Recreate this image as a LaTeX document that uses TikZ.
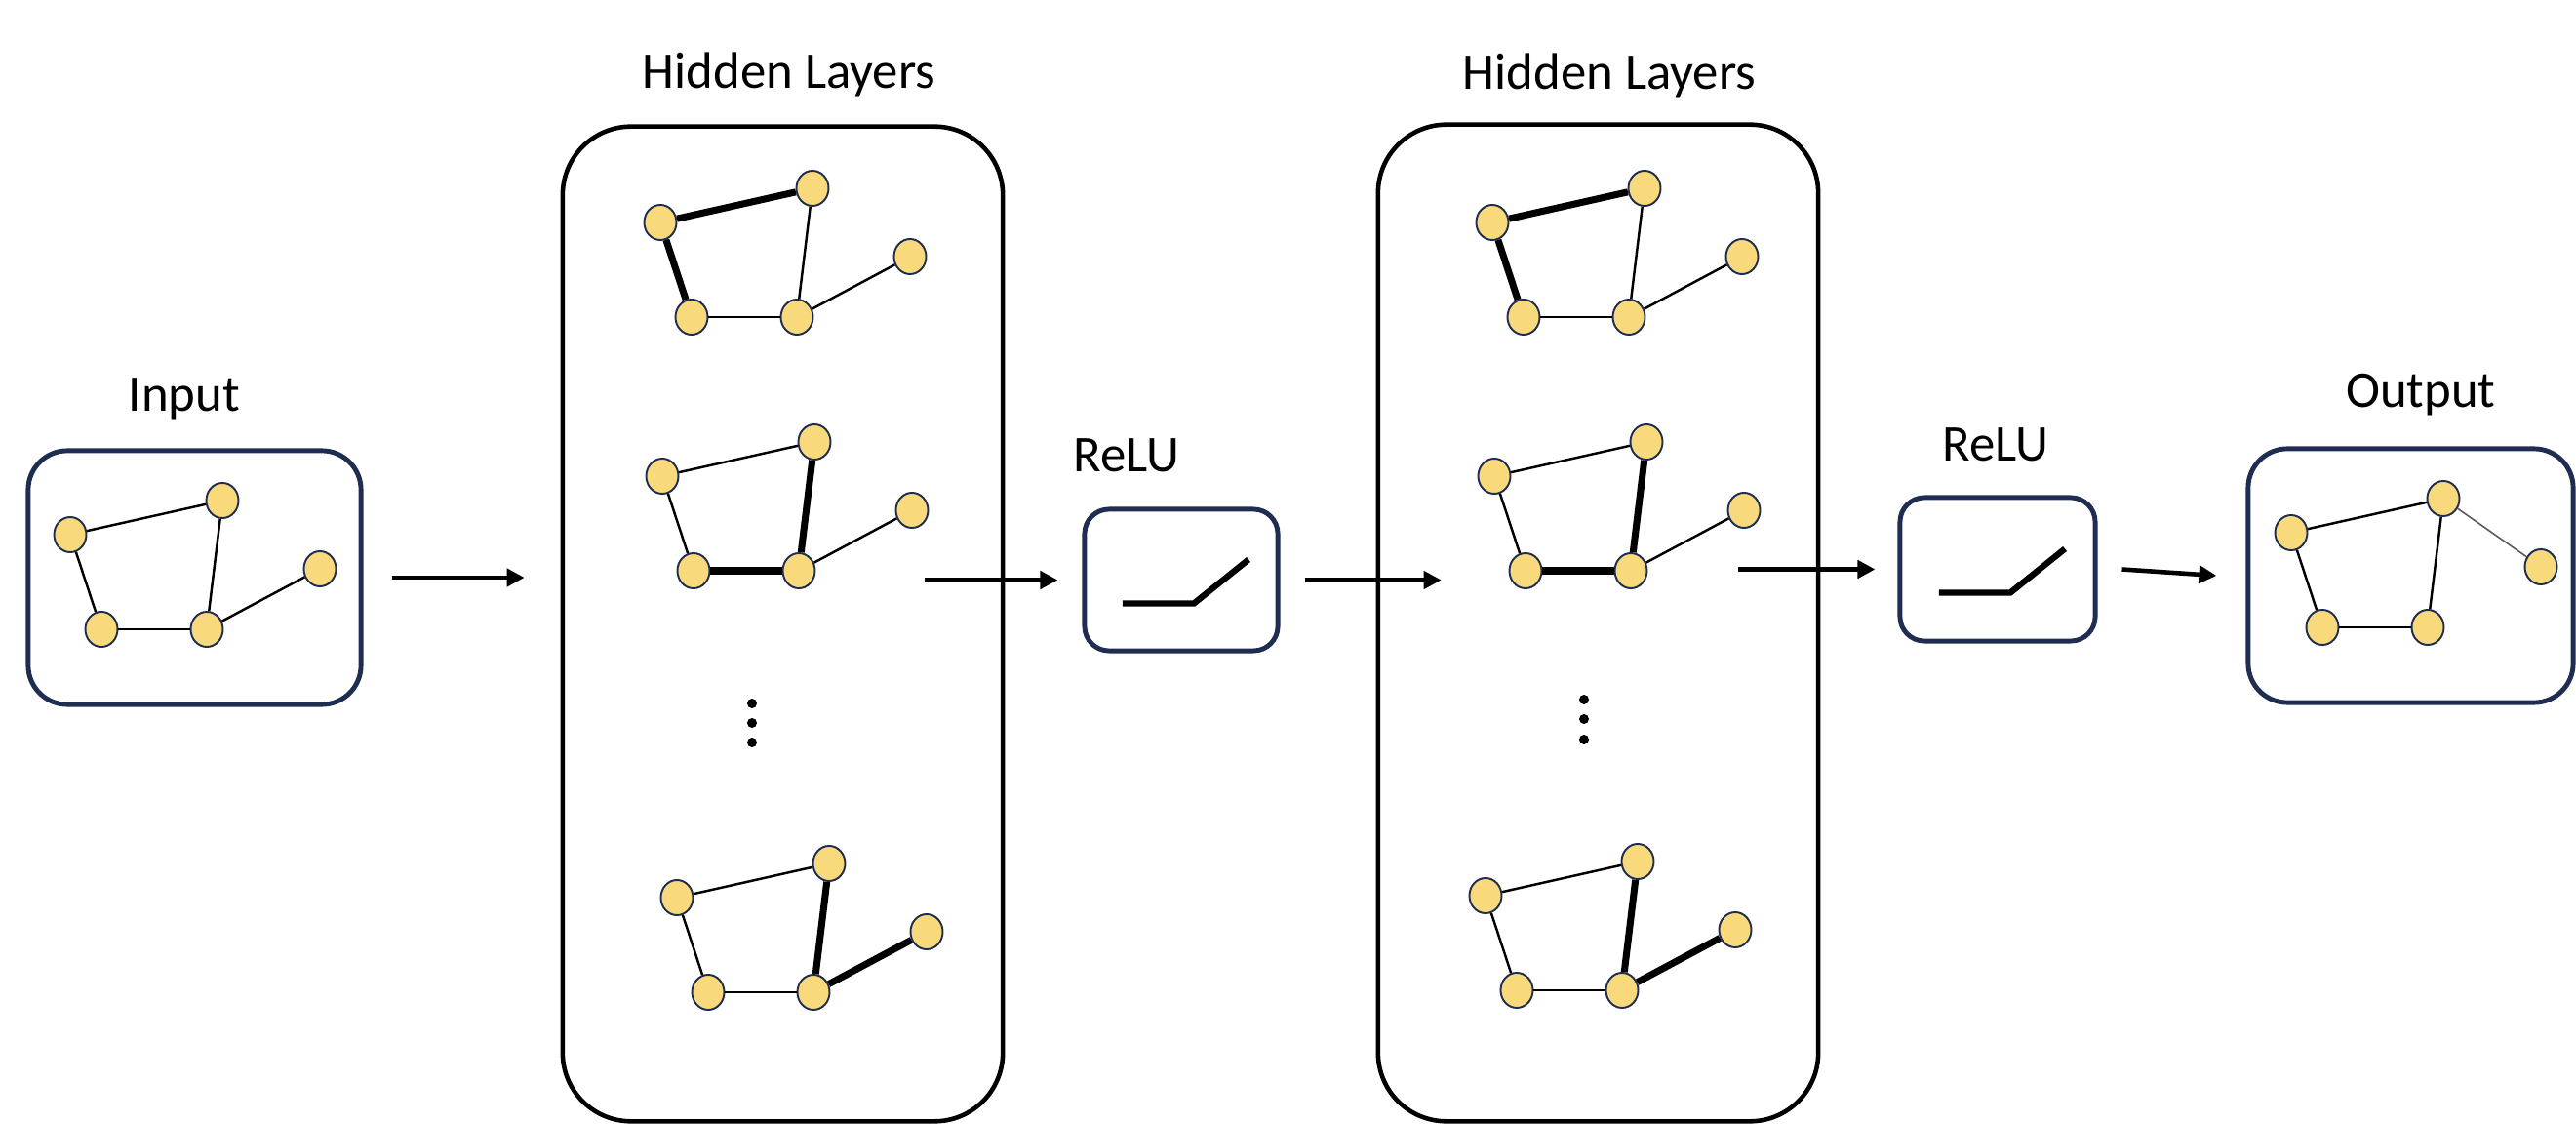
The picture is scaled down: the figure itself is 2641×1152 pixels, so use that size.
\documentclass[tikz,border=0pt]{standalone}
\usepackage{fontspec}
\setmainfont{Carlito}
\usepackage{xcolor}
\definecolor{gnnnavy}{HTML}{1F2D50}
\definecolor{gnnyellow}{HTML}{F8DA7C}
\usepackage{tikz}
\usetikzlibrary{arrows.meta,shapes.geometric}
\tikzset{
  gnnnode/.style={ellipse,draw=gnnnavy,line width=0.55pt,fill=gnnyellow,minimum width=3.3mm,minimum height=3.6mm,inner sep=0pt},
  gnnedge/.style={line width=0.7pt},
  gnnbold/.style={line width=2pt},
  gnnfaint/.style={line width=0.45pt,black!65},
  gnnlayer/.style={draw,line width=1.3pt,rounded corners=7mm,inner sep=0pt},
  gnnframe/.style={draw=gnnnavy,line width=1.4pt,rounded corners=4mm,inner sep=0pt},
  gnnrelu/.style={draw=gnnnavy,line width=1.4pt,rounded corners=2.5mm,inner sep=0pt},
  gnnact/.style={line width=1.8pt},
  gnnflow/.style={-{Triangle[length=1.8mm,width=1.8mm]},line width=1.3pt},
  gnnlabel/.style={font=\fontsize{15}{18}\selectfont,anchor=base,inner sep=0pt},
}
% #1 name, #2 placement, #3-#7 edge styles ab/ad/de/be/c, #8 node that c hangs on
\newcommand{\gnngraph}[8]{%
  \begin{scope}[#2]
    \node[gnnnode] (#1a) at (0,0) {};
    \node[gnnnode] (#1b) at (156,-35) {};
    \node[gnnnode] (#1c) at (256,35) {};
    \node[gnnnode] (#1d) at (32,97) {};
    \node[gnnnode] (#1e) at (140,97) {};
  \end{scope}
  \draw[#3] (#1a) -- (#1b);
  \draw[#4] (#1a) -- (#1d);
  \draw[#5] (#1d) -- (#1e);
  \draw[#6] (#1b) -- (#1e);
  \draw[#7] (#1#8) -- (#1c);
}

\begin{document}
\begin{tikzpicture}[x=0.01cm,y=-0.01cm]
\useasboundingbox (0,0) rectangle (2641,1152);

\node[gnnframe,minimum width=3.41cm,minimum height=2.6cm] (inbox) at (199.5,592) {};
\node[gnnlayer,minimum width=4.51cm,minimum height=10.19cm] (hid1) at (802.5,639.5) {};
\node[gnnrelu,minimum width=1.98cm,minimum height=1.45cm] (relu1) at (1211,594.5) {};
\node[gnnlayer,minimum width=4.51cm,minimum height=10.21cm] (hid2) at (1638.5,638.5) {};
\node[gnnrelu,minimum width=2cm,minimum height=1.47cm] (relu2) at (2048,583.5) {};
\node[gnnframe,minimum width=3.33cm,minimum height=2.6cm] (outbox) at (2471.5,590) {};

\node[gnnlabel] (inlab) at (189,422) {Input};
\node[gnnlabel] (hid1lab) at (809,91) {Hidden Layers};
\node[gnnlabel] (relu1lab) at (1155,484) {ReLU};
\node[gnnlabel] (hid2lab) at (1650,92) {Hidden Layers};
\node[gnnlabel] (relu2lab) at (2046,473) {ReLU};
\node[gnnlabel] (outlab) at (2482,418) {Output};

\gnngraph{in}{shift={(72,548)}}{gnnedge}{gnnedge}{gnnedge}{gnnedge}{gnnedge}{e}
\gnngraph{hta}{shift={(677,228)}}{gnnbold}{gnnbold}{gnnedge}{gnnedge}{gnnedge}{e}
\gnngraph{hma}{shift={(679,488)}}{gnnedge}{gnnedge}{gnnbold}{gnnbold}{gnnedge}{e}
\gnngraph{hba}{shift={(694,920)}}{gnnedge}{gnnedge}{gnnedge}{gnnbold}{gnnbold}{e}
\gnngraph{htb}{shift={(1530,228)}}{gnnbold}{gnnbold}{gnnedge}{gnnedge}{gnnedge}{e}
\gnngraph{hmb}{shift={(1532,488)}}{gnnedge}{gnnedge}{gnnbold}{gnnbold}{gnnedge}{e}
\gnngraph{hbb}{shift={(1523,918)}}{gnnedge}{gnnedge}{gnnedge}{gnnbold}{gnnbold}{e}
\gnngraph{out}{shift={(2349,546)}}{gnnedge}{gnnedge}{gnnedge}{gnnedge}{gnnfaint}{b}

\foreach \y in {721,741,761} \fill (771,\y) circle[radius=0.5mm];
\foreach \y in {717,737,758} \fill (1624,\y) circle[radius=0.5mm];

\foreach \r in {relu1,relu2}
  \draw[gnnact] ([shift={(-0.6cm,-0.24cm)}]\r.center) -- ++(0.73cm,0) -- ++(0.56cm,0.45cm);

\draw[gnnflow] ([xshift=2.9mm]inbox.east) -- ++(13.6mm,0);
\draw[gnnflow] ([xshift=-16.1mm]relu1.west) -- ([xshift=-2.5mm]relu1.west);
\draw[gnnflow] ([xshift=2.5mm]relu1.east) -- ++(14mm,0);
\draw[gnnflow] ([xshift=-16.3mm]relu2.west) -- ([xshift=-2.3mm]relu2.west);
\draw[gnnflow] ([xshift=2.5mm]relu2.east) -- ([xshift=-3mm]outbox.west);
\end{tikzpicture}
\end{document}
